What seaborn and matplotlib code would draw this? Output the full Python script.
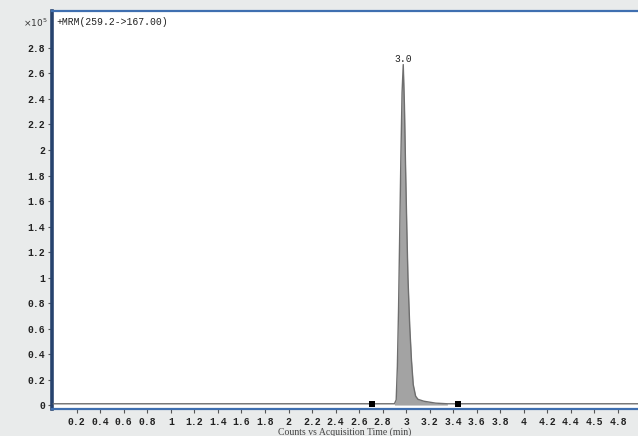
import matplotlib
matplotlib.use("Agg")
import numpy as np
import pandas as pd
import matplotlib.pyplot as plt
import seaborn as sns

# MRM chromatogram trace (counts in units of 1e5)
time_min = [0.00, 2.70, 2.90, 2.915, 2.925, 2.935, 2.945, 2.955, 2.965, 2.975,
            2.985, 2.995, 3.005, 3.015, 3.03, 3.045, 3.06, 3.08, 3.10, 3.15,
            3.25, 3.35, 3.45, 5.00]
counts_e5 = [0.01, 0.01, 0.01, 0.04, 0.30, 0.75, 1.35, 1.95, 2.45, 2.67,
             2.35, 1.85, 1.40, 1.00, 0.62, 0.35, 0.16, 0.07, 0.045, 0.03,
             0.015, 0.01, 0.01, 0.01]

# integration start / end markers
integration_bounds = [2.71, 3.44]

x_ticks = [0.2, 0.4, 0.6, 0.8, 1.0, 1.2, 1.4, 1.6, 1.8, 2.0, 2.2, 2.4,
           2.6, 2.8, 3.0, 3.2, 3.4, 3.6, 3.8, 4.0, 4.2, 4.4, 4.6, 4.8]
x_tick_labels = ["0.2", "0.4", "0.6", "0.8", "1", "1.2", "1.4", "1.6", "1.8",
                 "2", "2.2", "2.4", "2.6", "2.8", "3", "3.2", "3.4", "3.6",
                 "3.8", "4", "4.2", "4.4", "4.5", "4.8"]
y_ticks = [0.0, 0.2, 0.4, 0.6, 0.8, 1.0, 1.2, 1.4, 1.6, 1.8, 2.0, 2.2,
           2.4, 2.6, 2.8]
y_tick_labels = ["0", "0.2", "0.4", "0.6", "0.8", "1", "1.2", "1.4", "1.6",
                 "1.8", "2", "2.2", "2.4", "2.6", "2.8"]

trace_title = "+MRM(259.2->167.00)"
x_label = "Counts vs Acquisition Time (min)"

df = pd.DataFrame({"time": time_min, "counts": counts_e5})

sns.set_theme(style="white")
plt.rcParams["font.family"] = ["Liberation Mono", "DejaVu Sans Mono"]

W, H = 638, 436
fig = plt.figure(figsize=(W / 100, H / 100), dpi=100, facecolor="#e9ebeb")
ax = fig.add_axes([52 / W, 27 / H, 1 - 52 / W, 398 / H])
ax.set_facecolor("white")

# filled peak between the integration markers
mask = (df["time"] >= integration_bounds[0]) & (df["time"] <= integration_bounds[1])
ax.fill_between(df["time"][mask], 0, df["counts"][mask], color="#a3a3a3",
                linewidth=0, zorder=2)
sns.lineplot(data=df, x="time", y="counts", ax=ax, color="#6e6e6e",
             linewidth=1.0, zorder=3, estimator=None, sort=False)

# integration markers on the trace baseline
marker_y = np.interp(integration_bounds, df["time"], df["counts"])
sns.scatterplot(x=integration_bounds, y=marker_y, ax=ax, marker="s",
                color="black", s=14, linewidth=0, zorder=4)

# retention time label at the apex
apex = df.loc[df["counts"].idxmax()]
ax.annotate(f"{apex['time']:.1f}", (apex["time"], apex["counts"]),
            xytext=(0, 0.5), textcoords="offset points", ha="center",
            va="bottom", fontsize=7, color="#222222")

ax.set_xlim(-0.01, 4.97)
ax.set_ylim(-0.031, 3.09)
ax.set_xticks(x_ticks)
ax.set_xticklabels(x_tick_labels)
ax.set_yticks(y_ticks)
ax.set_yticklabels(y_tick_labels)
ax.set_xlabel("")
ax.set_ylabel("")

ax.tick_params(axis="both", direction="out", length=3, width=0.8,
               color="#555555", labelsize=7, labelcolor="#222222")
ax.tick_params(axis="x", pad=3)
ax.tick_params(axis="y", pad=2)
ax.xaxis.set_ticks_position("bottom")
ax.yaxis.set_ticks_position("left")
for lab in ax.get_xticklabels() + ax.get_yticklabels():
    lab.set_fontweight("bold")

ax.spines["right"].set_visible(False)
ax.spines["left"].set_color("#27436e")
ax.spines["left"].set_linewidth(2.6)
ax.spines["top"].set_color("#3f6fb0")
ax.spines["top"].set_linewidth(1.6)
ax.spines["bottom"].set_color("#3f6fb0")
ax.spines["bottom"].set_linewidth(1.6)

ax.text(0.008, 0.985, trace_title, transform=ax.transAxes, ha="left",
        va="top", fontsize=7, color="#222222")
fig.text(23 / W, 1 - 23 / H, r"$\times10^5$", ha="left", va="center",
         fontsize=6.5, color="#333333", family="DejaVu Serif")
fig.text(345 / W, 1 - 432 / H, x_label, ha="center", va="center",
         fontsize=7, color="#444444", family="Liberation Serif")

fig.savefig("out.png", dpi=100, facecolor=fig.get_facecolor())
